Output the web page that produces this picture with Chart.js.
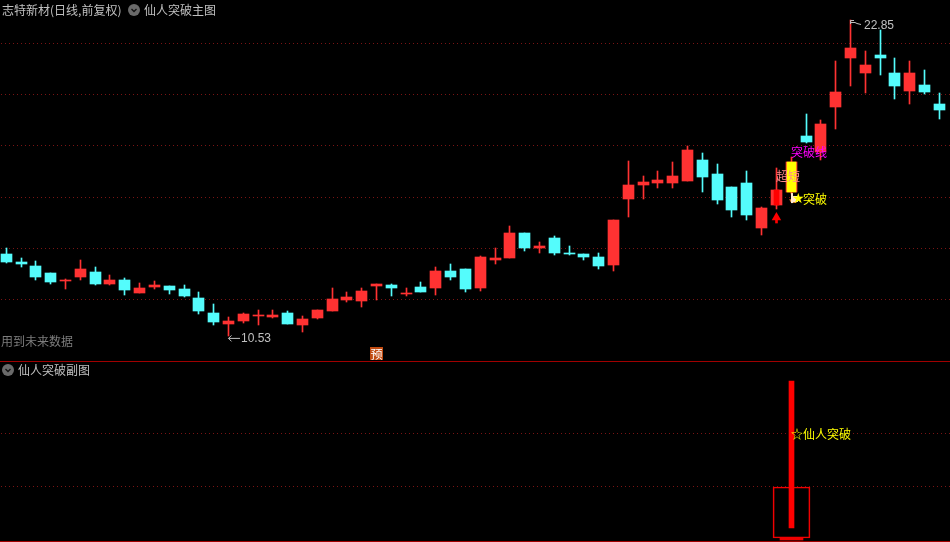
<!DOCTYPE html>
<html>
<head>
<meta charset="utf-8">
<title>志特新材</title>
<script src="https://cdn.jsdelivr.net/npm/chart.js@4"></script>
<style>
html, body { margin: 0; padding: 0; background: #000; overflow: hidden; }
body { position: relative; width: 950px; height: 542px; font: 12px "Noto Sans CJK SC", sans-serif; }
canvas { position: absolute; left: 0; }
#mainChart { top: 0; }
#subChart { top: 361px; }
.txt { position: absolute; line-height: 14px; white-space: nowrap; color: #c0c0c0; }
.icon { position: absolute; }
#pre { background: #c04a10; color: #fff; width: 13px; height: 13px; line-height: 13px; left: 370px; top: 347px; text-align: center; }
</style>
</head>
<body>
<canvas id="mainChart" width="950" height="361"></canvas>
<canvas id="subChart" width="950" height="181"></canvas>

<div class="txt" style="left:2px;top:3px">志特新材(日线,前复权)</div>
<svg class="icon" style="left:128px;top:4px" width="12" height="12"><circle cx="6" cy="6" r="6" fill="#6a6a6a"/><path d="M3.5 5 L6 7.5 L8.5 5" fill="none" stroke="#111" stroke-width="1.3"/></svg>
<div class="txt" style="left:144px;top:3px">仙人突破主图</div>
<div class="txt" style="left:1px;top:334px;color:#7c7c7c">用到未来数据</div>
<div class="txt" id="pre">预</div>
<svg class="icon" style="left:2px;top:364px" width="12" height="12"><circle cx="6" cy="6" r="6" fill="#6a6a6a"/><path d="M3.5 5 L6 7.5 L8.5 5" fill="none" stroke="#111" stroke-width="1.3"/></svg>
<div class="txt" style="left:18px;top:363px">仙人突破副图</div>

<script>
var opens = [13.72,13.41,13.26,12.98,12.68,12.83,13.02,12.55,12.71,12.20,12.44,12.48,12.36,12.01,11.42,10.99,11.11,11.31,11.27,11.42,10.95,11.23,
    11.50,11.93,11.89,12.48,12.51,12.16,12.44,12.40,13.06,13.14,12.40,13.49,13.57,14.54,13.96,14.35,13.76,13.72,13.61,13.30,15.87,16.42,16.49,16.49,
    16.57,17.39,16.84,16.34,16.49,14.74,15.63,16.14,18.33,17.70,19.46,21.37,20.78,21.49,20.78,20.08,20.32,19.57];
var closes = [13.42,13.33,12.83,12.63,12.71,13.14,12.55,12.71,12.32,12.40,12.51,12.32,12.09,11.50,11.07,11.11,11.38,11.35,11.35,10.99,11.19,11.54,
    11.97,12.05,12.28,12.55,12.40,12.20,12.24,13.06,12.83,12.36,13.61,13.57,14.54,13.96,14.04,13.76,13.72,13.61,13.26,15.05,16.42,16.53,16.61,16.77,
    17.78,16.73,15.83,15.44,15.25,15.52,16.22,17.31,18.09,18.79,20.04,21.76,21.10,21.37,20.28,20.78,20.04,19.34];
var highs = [13.95,13.56,13.44,12.98,12.75,13.49,13.22,12.91,12.79,12.59,12.67,12.48,12.51,12.24,11.77,11.27,11.42,11.54,11.54,11.50,11.31,11.54,
    12.40,12.24,12.40,12.55,12.55,12.40,12.63,13.22,13.33,13.14,13.65,13.96,14.82,14.54,14.19,14.43,14.04,13.72,13.76,15.05,17.35,16.77,16.96,17.31,
    17.94,17.66,17.23,16.34,16.96,15.56,17.08,17.51,19.18,18.95,21.25,22.85,21.64,22.46,21.37,21.25,20.90,20.00];
var lows = [13.37,13.23,12.71,12.55,12.36,12.71,12.51,12.51,12.12,12.20,12.36,12.16,12.05,11.38,10.95,10.53,11.03,10.95,11.23,10.99,10.68,11.19,
    11.50,11.85,11.66,11.93,12.09,12.09,12.24,12.12,12.71,12.24,12.28,13.33,13.57,13.84,13.76,13.69,13.69,13.49,13.14,13.06,15.17,15.87,16.30,16.30,
    16.57,16.14,15.67,15.17,15.05,14.47,15.48,16.06,18.05,17.39,18.60,20.28,20.00,20.71,19.77,19.57,19.96,18.99];
var days = opens.map(function (v, i) { return i; });

var gridPrices = [21.94, 19.95, 17.96, 15.93, 13.94, 11.95];
var breakDay = 53;      // yellow candle
var arrowDay = 52;
var arrowHead = 15.15, arrowTail = 14.93;

var signalDay = [53];
var signalValues = [[0, 1]];
var boxValues = [[-0.065, 0.28]];
var baseValues = [[-0.078, -0.07]];
var subGridValues = [0.64, 0.28];

var RED = '#ff3232', CYAN = '#54fcfc', GRID = '#7a1414';

function pairs(a, b) {
    return days.map(function (d, i) { return { x: d, y: [a[i], b[i]] }; });
}
var candleColors = days.map(function (d, i) {
    return closes[i] >= opens[i] ? RED : CYAN;
});

var xAxis = { type: 'linear', display: false, offset: false, min: -0.425, max: 63.72 };

// snap bars to whole pixels, the thin wicks go blurry otherwise
var snapBars = {
    id: 'snapBars',
    beforeDatasetsDraw: function (chart) {
        chart.data.datasets.forEach(function (ds, n) {
            if (ds.type === 'line') return;
            chart.getDatasetMeta(n).data.forEach(function (el) {
                el.x = Math.floor(el.x) + 0.5;
                el.y = Math.round(el.y);
                el.base = Math.round(el.base);
                el.height = el.base - el.y;
            });
        });
    }
};

function label(ctx, text, x, y, color, font) {
    ctx.fillStyle = color;
    ctx.font = font || '12px "Noto Sans CJK SC"';
    ctx.textBaseline = 'middle';
    ctx.textAlign = 'left';
    ctx.fillText(text, x, y);
}

var mainNotes = {
    id: 'mainNotes',
    afterDatasetsDraw: function (chart) {
        var ctx = chart.ctx, xs = chart.scales.x, ys = chart.scales.y;
        ctx.save();

        // extreme labels
        var lowI = lows.indexOf(Math.min.apply(null, lows));
        var highI = highs.indexOf(Math.max.apply(null, highs));
        var lx = Math.floor(xs.getPixelForValue(lowI)), ly = ys.getPixelForValue(lows[lowI]);
        ctx.strokeStyle = '#c0c0c0';
        ctx.beginPath();
        ctx.moveTo(lx + 12, ly + 2.5); ctx.lineTo(lx + 0.5, ly + 2.5);
        ctx.moveTo(lx + 3.5, ly - 0.5); ctx.lineTo(lx + 0.5, ly + 2.5); ctx.lineTo(lx + 3.5, ly + 5.5);
        ctx.stroke();
        label(ctx, lows[lowI].toFixed(2), lx + 13, ly + 3, '#c0c0c0', '12px "Liberation Sans"');

        var hx = Math.floor(xs.getPixelForValue(highI)), hy = ys.getPixelForValue(highs[highI]);
        ctx.beginPath();
        ctx.moveTo(hx + 0.5, hy + 4); ctx.lineTo(hx + 0.5, hy + 0.5); ctx.lineTo(hx + 4, hy + 0.5);
        ctx.moveTo(hx + 0.5, hy + 2.5); ctx.lineTo(hx + 5, hy + 2.5); ctx.lineTo(hx + 7, hy + 3.5); ctx.lineTo(hx + 11, hy + 4.5);
        ctx.stroke();
        label(ctx, highs[highI].toFixed(2), hx + 14, hy + 6, '#c0c0c0', '12px "Liberation Sans"');

        // signal texts
        var bx = Math.floor(xs.getPixelForValue(breakDay));
        label(ctx, '超短', bx - 15, ys.getPixelForValue(16.73), '#ff8c8c');
        label(ctx, '突破线', bx, ys.getPixelForValue(17.70), '#ff00ff');

        // mouse pointer over the candle
        ctx.fillStyle = '#d9822b';
        ctx.beginPath();
        ctx.arc(bx + 3, ys.getPixelForValue(15.87) - 1, 5, 0.3, 2.9);
        ctx.fill();
        ctx.fillStyle = '#ffe9cf';
        ctx.fillRect(bx, ys.getPixelForValue(16.10), 2, 10);
        ctx.fillRect(bx + 1, ys.getPixelForValue(15.87) - 3, 6, 6);

        label(ctx, '★', bx + 1, ys.getPixelForValue(15.87), '#ffff00', '14px "DejaVu Sans"');
        label(ctx, '突破', bx + 12, ys.getPixelForValue(15.87), '#ffff00');
        ctx.restore();
    }
};

new Chart(document.getElementById('mainChart').getContext('2d'), {
    type: 'bar',
    data: {
        datasets: [
            {
                type: 'line', showLine: false, order: 0,
                data: [{ x: arrowDay, y: arrowHead }],
                pointStyle: 'triangle', pointRadius: 5.5, pointBackgroundColor: '#ff0000', pointBorderWidth: 0
            },
            {
                data: [{ x: arrowDay, y: [arrowTail, arrowHead] }],
                barThickness: 2, backgroundColor: '#ff0000', grouped: false, order: 1
            },
            {
                data: [{ x: arrowDay, y: [opens[arrowDay], closes[arrowDay]] }],
                barThickness: 5, backgroundColor: '#ff0000', grouped: false, order: 2
            },
            {
                data: [{ x: breakDay, y: [opens[breakDay], closes[breakDay]] }],
                barThickness: 9, backgroundColor: '#ffff00', grouped: false, order: 3
            },
            {
                data: pairs(opens, closes),
                barThickness: 11, backgroundColor: candleColors, grouped: false, order: 4
            },
            {
                data: pairs(lows, highs),
                barThickness: 1, backgroundColor: candleColors, grouped: false, order: 5
            }
        ]
    },
    plugins: [snapBars, mainNotes],
    options: {
        responsive: false,
        animation: false,
        devicePixelRatio: 1,
        layout: { padding: 0, autoPadding: false },
        plugins: { legend: { display: false }, tooltip: { enabled: false } },
        scales: {
            x: xAxis,
            y: {
                min: 9.551, max: 23.63,
                afterFit: function (axis) { axis.width = 0; },
                afterBuildTicks: function (axis) {
                    axis.ticks = gridPrices.map(function (v) { return { value: v }; });
                },
                ticks: { display: false },
                grid: { color: GRID, drawTicks: false },
                border: { display: false, dash: [1, 3], dashOffset: 3 }
            }
        }
    }
});

var subNotes = {
    id: 'subNotes',
    afterDatasetsDraw: function (chart) {
        var ctx = chart.ctx;
        ctx.save();
        label(ctx, '☆仙人突破', Math.floor(chart.scales.x.getPixelForValue(signalDay[0])),
            chart.scales.y.getPixelForValue(subGridValues[0]), '#ffff00');
        ctx.restore();
    }
};

// panel frame lines
var frame = {
    id: 'frame',
    afterDraw: function (chart) {
        var ctx = chart.ctx;
        ctx.fillStyle = '#a00000';
        ctx.fillRect(0, 0, 950, 1);
        if (chart.canvas.id === 'subChart') ctx.fillRect(0, 180, 950, 1);
    }
};
Chart.register(frame);

new Chart(document.getElementById('subChart').getContext('2d'), {
    type: 'bar',
    data: {
        datasets: [
            {
                data: signalDay.map(function (d, i) { return { x: d, y: signalValues[i] }; }),
                barThickness: 5, backgroundColor: '#ff0000', grouped: false, order: 0
            },
            {
                data: signalDay.map(function (d, i) { return { x: d, y: boxValues[i] }; }),
                barThickness: 37, backgroundColor: 'rgba(0,0,0,0)', borderColor: '#f00000', borderWidth: 1,
                borderSkipped: false, grouped: false, order: 1
            },
            {
                data: signalDay.map(function (d, i) { return { x: d, y: baseValues[i] }; }),
                barThickness: 23, backgroundColor: '#f00000', grouped: false, order: 2
            }
        ]
    },
    plugins: [snapBars, subNotes],
    options: {
        responsive: false,
        animation: false,
        devicePixelRatio: 1,
        layout: { padding: 0, autoPadding: false },
        plugins: { legend: { display: false }, tooltip: { enabled: false } },
        scales: {
            x: xAxis,
            y: {
                min: -0.094, max: 1.136,
                afterFit: function (axis) { axis.width = 0; },
                afterBuildTicks: function (axis) {
                    axis.ticks = subGridValues.map(function (v) { return { value: v }; });
                },
                ticks: { display: false },
                grid: { color: GRID, drawTicks: false },
                border: { display: false, dash: [1, 3], dashOffset: 3 }
            }
        }
    }
});
</script>
</body>
</html>
